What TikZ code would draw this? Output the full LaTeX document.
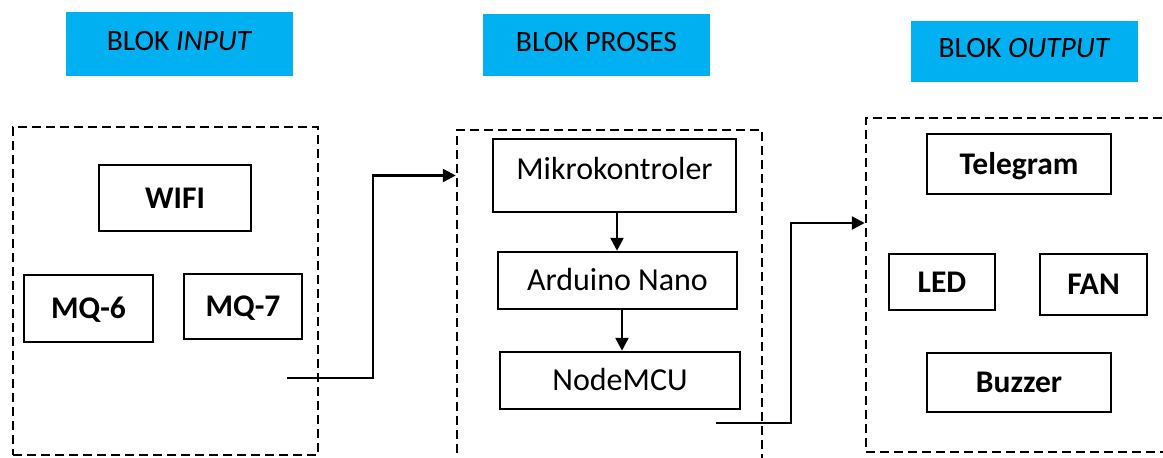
\documentclass[tikz,border=0pt]{standalone}
\usepackage{fontspec}
\setmainfont{Carlito}
\usetikzlibrary{arrows.meta,calc}
\definecolor{hdrblue}{HTML}{00B0F0}
\begin{document}
\begin{tikzpicture}[x=1pt,y=-1pt,
 box/.style={draw, line width=2.5pt, inner sep=0pt, text height=20.5pt, text depth=0pt, font=\fontsize{32}{37}\selectfont},
 bbox/.style={box, font=\fontsize{31.5}{36}\selectfont\bfseries},
 hdr/.style={fill=hdrblue, inner sep=0pt, text height=18.5pt, text depth=6pt, font=\fontsize{29.5}{34}\selectfont},
 grp/.style={draw, line width=2.5pt, dash pattern=on 9pt off 5pt, inner sep=0pt},
 conn/.style={line width=2.5pt},
 arr/.style={conn, -{Triangle[length=13pt,width=13pt]}},
]
\useasboundingbox (0,0) rectangle (1163,458);
\clip (0,0) rectangle (1163,458);

% headers
\node[hdr, minimum width=227pt, minimum height=64pt] (hin) at (179.5,44) {BLOK \textit{INPUT}};
\node[hdr, minimum width=227pt, minimum height=62pt] (hpr) at (596.5,45) {BLOK PROSES};
\node[hdr, minimum width=227pt, minimum height=61pt] (hout) at (1024.5,51.5) {BLOK \textit{OUTPUT}};

% groups
\node[grp, minimum width=305pt, minimum height=328pt] (in) at (165.5,291) {};
\node[grp, minimum width=305pt, minimum height=350pt] (pr) at (609.5,305) {};
\node[grp, minimum width=324pt, minimum height=334pt] (out) at (1028,285) {};

% input boxes
\node[bbox, minimum width=152pt, minimum height=66pt] (wifi) at (175,198) {WIFI};
\node[bbox, minimum width=129pt, minimum height=67pt] (mq6) at (88.5,308.5) {MQ-6};
\node[bbox, minimum width=118pt, minimum height=65pt] (mq7) at (243,306.5) {MQ-7};

% process boxes
\node[box, minimum width=243pt, minimum height=73pt, text depth=13pt] (mk) at (614.5,175.5) {Mikrokontroler};
\node[box, minimum width=239pt, minimum height=57pt] (an) at (617.5,280.5) {Arduino Nano};
\node[box, minimum width=240pt, minimum height=57pt] (nm) at (620,380.5) {NodeMCU};

% output boxes
\node[bbox, minimum width=184pt, minimum height=60pt] (tg) at (1019,164) {Telegram};
\node[bbox, minimum width=106pt, minimum height=56pt] (led) at (942,282) {LED};
\node[bbox, minimum width=107pt, minimum height=61pt] (fan) at (1093.5,284.5) {FAN};
\node[bbox, minimum width=184pt, minimum height=59pt] (bz) at (1019,382.5) {Buzzer};

% connectors
\coordinate (s1) at (287,378);
\draw[arr] (s1) -- ++(86,0) |- (mk -| pr.west);
\coordinate (s2) at (716,423);
\draw[arr] (s2) -- ++(75,0) |- ([yshift=62pt]out.west);
\draw[arr] ([xshift=2.5pt]mk.south) -- ([xshift=2.5pt]mk.south |- an.north);
\draw[arr] ([xshift=4.5pt]an.south) -- ([xshift=4.5pt]an.south |- nm.north);
\end{tikzpicture}
\end{document}
